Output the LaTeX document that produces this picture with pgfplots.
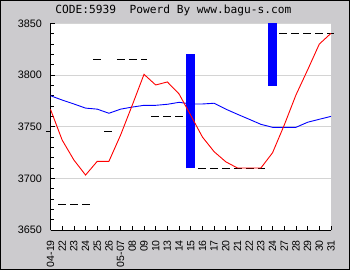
\documentclass[border=0pt]{standalone}
\usepackage{pgfplots}
\pgfplotsset{compat=1.18}
\usepackage{fontspec}
\setmainfont{Liberation Sans}
\newfontfamily\titlemono{DejaVu Sans Mono}
\definecolor{bggray}{RGB}{204,203,206}
\definecolor{gridgray}{RGB}{212,212,212}
\begin{document}
\begin{tikzpicture}
\fill[bggray] (-50.5pt,-40pt) rectangle (299.5pt,230pt);
\clip (-50.5pt,-40pt) rectangle (299.5pt,230pt);
\begin{axis}[
  scale only axis, width=280.5pt, height=206.6pt,
  at={(0pt,0pt)}, anchor=south west,
  xmin=0, xmax=24, ymin=3650, ymax=3850,
  axis x line=bottom, axis y line=left,
  axis line style={-, black, line width=0.9pt},
  xtick={0,...,24},
  xticklabels={04-19,22,23,24,25,26,05-07,08,09,10,13,14,15,16,17,20,21,22,23,24,27,28,29,30,31},
  ytick={3650,3700,...,3850},
  minor y tick num=4,
  tick align=inside,
  major tick length=4pt, minor tick length=3pt,
  tick style={black, line width=0.7pt},
  ymajorgrids, major grid style={gridgray, line width=0.9pt},
  xticklabel style={rotate=90, anchor=east, inner sep=0pt, font=\fontsize{10.5}{12}\selectfont},
  yticklabel style={anchor=east, inner sep=0pt, font=\fontsize{10.8}{12}\selectfont},
  xticklabel shift=10pt, yticklabel shift=8.5pt,
  /pgf/number format/assume math mode=true,
  /pgf/number format/1000 sep={},
  clip=false,
  axis background/.style={fill=white},
]
% blue bars
\addplot[blue, line width=9pt] coordinates {(12,3709.7) (12,3820.4)};
\addplot[blue, line width=9pt] coordinates {(19,3789.7) (19,3850)};
% dashed level segments
\addplot[black, line width=0.9pt, dash pattern=on 8pt off 4pt] coordinates {(0.67,3674.9) (3.38,3674.9)};
\addplot[black, line width=0.9pt, dash pattern=on 8pt off 4pt] coordinates {(3.67,3815.2) (4.39,3815.2)};
\addplot[black, line width=0.9pt, dash pattern=on 8pt off 4pt] coordinates {(5.67,3815.2) (8.29,3815.2)};
\addplot[black, line width=0.9pt, dash pattern=on 8pt off 4pt] coordinates {(4.58,3745.2) (5.38,3745.2)};
\addplot[black, line width=0.9pt, dash pattern=on 8pt off 4pt] coordinates {(8.61,3759.7) (11.33,3759.7)};
\addplot[black, line width=0.9pt, dash pattern=on 8pt off 4pt] coordinates {(12.61,3709.7) (18.38,3709.7)};
\addplot[black, line width=0.9pt, dash pattern=on 8pt off 4pt] coordinates {(19.58,3840.4) (24.29,3840.4)};
% current level marker
\addplot[black, line width=0.9pt] coordinates {(-0.39,3745.2) (0,3745.2)};
% blue line
\addplot[blue, line width=0.9pt] coordinates {
(0,3780) (1,3775.8) (2,3772) (3,3768) (4,3767) (5,3763) (6,3767) (7,3769)
(8,3770.7) (9,3770.7) (10,3771.7) (11,3773.6) (12,3772) (13,3772) (14,3772.7)
(15,3767) (16,3762) (17,3757.2) (18,3752.3) (19,3749.4) (20,3749.4) (21,3749.4)
(22,3754.3) (23,3757.2) (24,3760)};
% red line
\addplot[red, line width=0.9pt] coordinates {
(0,3766.8) (1,3737) (2,3717.8) (3,3703.2) (4,3716.5) (5,3716.5) (6,3742) (7,3771)
(8,3800.7) (9,3790.4) (10,3793.3) (11,3781.7) (12,3761) (13,3740) (14,3725.8)
(15,3716) (16,3710) (17,3710) (18,3710) (19,3724.8) (20,3751.6) (21,3780.7)
(22,3805) (23,3830) (24,3840.4)};
\end{axis}
\draw[black, line width=1pt] (-50pt,-39.5pt) rectangle (299pt,229.5pt);
\node[font=\titlemono\fontsize{11.2}{13}\selectfont, inner sep=0pt] at (122.9pt,219.5pt) {CODE:5939\ \ Powerd By www.bagu-s.com};
\end{tikzpicture}
\end{document}
